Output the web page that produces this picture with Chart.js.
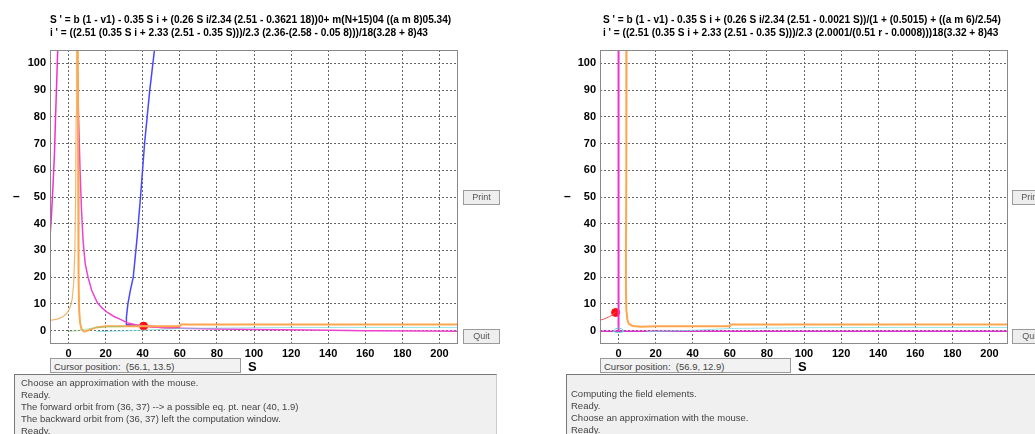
<!DOCTYPE html>
<html>
<head>
<meta charset="utf-8">
<script src="https://cdn.jsdelivr.net/npm/chart.js@4.4.1/dist/chart.umd.min.js"></script>
<style>
body { margin:0; width:1035px; height:434px; overflow:hidden; position:relative; background:#fff; font-family:"Liberation Sans", Arial, sans-serif; }
.panel { position:absolute; top:0; height:434px; }
canvas { position:absolute; left:0; top:0; }
.eq { position:absolute; font:bold 11px "Liberation Sans Narrow", "Liberation Sans", sans-serif; color:#000; white-space:nowrap; line-height:13px; transform:scaleX(0.92); transform-origin:left top; }
.btn { position:absolute; width:35px; height:13px; background:#eee; border:1px solid #9a9a9a; font:9px "Liberation Sans", sans-serif; color:#555; text-align:center; line-height:13px; }
.cursor { position:absolute; height:15px; background:#f2f2f2; border:1px solid #999; font:9.5px "Liberation Sans", sans-serif; color:#444; line-height:15px; padding-left:3px; box-sizing:border-box; }
.msg { position:absolute; background:#f0f0f0; border:1px solid #777; border-right-color:#ccc; font:9.5px "Liberation Sans", sans-serif; color:#444; line-height:12px; box-sizing:border-box; white-space:nowrap; }
.ylab { position:absolute; font:bold 12px "Liberation Sans", sans-serif; }
.xlab { position:absolute; font:bold 13px "Liberation Sans", sans-serif; }
</style>
</head>
<body>
<div class="panel" style="left:0;width:520px">
  <canvas id="left" width="520" height="375"></canvas>
  <div class="eq" style="left:50px;top:13px">S ' = b (1 - v1) - 0.35 S i + (0.26 S i/2.34 (2.51 - 0.3621 18))0+ m(N+15)04 ((a m 8)05.34)</div>
  <div class="eq" style="left:50px;top:26px">i ' = ((2.51 (0.35 S i + 2.33 (2.51 - 0.35 S)))/2.3 (2.36-(2.58 - 0.05 8)))/18(3.28 + 8)43</div>
  <div class="ylab" style="left:13px;top:189px">–</div>
  <div class="btn" style="left:463px;top:190px">Print</div>
  <div class="btn" style="left:463px;top:329px">Quit</div>
  <div class="cursor" style="left:50px;top:358px;width:191px">Cursor position:&nbsp; (56.1, 13.5)</div>
  <div class="xlab" style="left:248px;top:359px">S</div>
  <div class="msg" style="left:14px;top:374px;width:483px;height:70px;padding:2px 0 0 6px">
    Choose an approximation with the mouse.<br>Ready.<br>The forward orbit from (36, 37) --&gt; a possible eq. pt. near (40, 1.9)<br>The backward orbit from (36, 37) left the computation window.<br>Ready.
  </div>
</div>
<div class="panel" style="left:520px;width:515px">
  <canvas id="right" width="515" height="375"></canvas>
  <div class="eq" style="left:83px;top:13px">S ' = b (1 - v1) - 0.35 S i + (0.26 S i/2.34 (2.51 - 0.0021 S))/(1 + (0.5015) + ((a m 6)/2.54)</div>
  <div class="eq" style="left:83px;top:26px">i ' = ((2.51 (0.35 S i + 2.33 (2.51 - 0.35 S)))/2.3 (2.0001/(0.51 r - 0.0008)))18(3.32 + 8)43</div>
  <div class="ylab" style="left:44px;top:189px">–</div>
  <div class="btn" style="left:492px;top:190px">Print</div>
  <div class="btn" style="left:492px;top:329px">Quit</div>
  <div class="cursor" style="left:80px;top:358px;width:191px">Cursor position:&nbsp; (56.9, 12.9)</div>
  <div class="xlab" style="left:278px;top:359px">S</div>
  <div class="msg" style="left:46px;top:374px;width:500px;height:70px;padding:13px 0 0 4px">
    Computing the field elements.<br>Ready.<br>Choose an approximation with the mouse.<br>Ready.
  </div>
</div>
<script>
// tick labels
const xTicks = [0, 20, 40, 60, 80, 100, 120, 140, 160, 180, 200];
const yTicks = [0, 10, 20, 30, 40, 50, 60, 70, 80, 90, 100];

// left panel orbits (S, i)
const leftMagentaS = [-5.8, -6.3, -7.0, -7.6, -8.4, -9.3, -10.3];
const leftMagentaI = [106, 95, 80, 66, 54, 42, 32];
const leftPinkS = [4.8, 5.4, 6.2, 7.0, 7.9, 9.0, 10.5, 12.5, 15.5, 18, 21, 24.5, 28, 31.5, 36, 40.5, 50, 60, 80, 100, 130, 160, 190, 212];
const leftPinkI = [97, 80, 60, 45, 33, 25, 20, 15, 10.5, 8.5, 6.8, 5.3, 4.2, 3.0, 2.2, 1.7, 1.2, 0.9, 0.6, 0.4, 0.2, 0.0, -0.1, -0.2];
const leftRedS = [31, 36, 40.5, 50, 60];
const leftRedI = [2.2, 1.9, 1.7, 1.3, 1.0];
const leftOrangeUpS = [-10.3, -6, -3, -1, 0, 1, 2, 2.8, 3.4, 3.8, 4.1, 4.3];
const leftOrangeUpI = [3.8, 4.3, 5.2, 6.5, 7.5, 9, 12, 18, 30, 50, 80, 106];
const leftOrangeDownS = [5.0, 5.2, 5.4, 5.7, 6.2, 7.0, 8.5, 11, 15, 20, 30, 45, 60, 60.5, 100, 150, 212];
const leftOrangeDownI = [106, 60, 20, 8, 3, 0.5, -0.4, 0.2, 1.2, 1.6, 1.6, 1.6, 1.6, 2.3, 2.3, 2.3, 2.3];
const leftBlueS = [40.5, 36, 31, 31.2, 32, 33.3, 34.9, 37, 38.8, 41, 43.8, 46.5];
const leftBlueI = [1.7, 1.9, 2.1, 5, 10, 15, 20, 35, 50, 70, 90, 106];
const leftGreenS = [0, 5, 10, 15, 20, 30];
const leftGreenI = [-0.3, 0, 0.6, 1.2, 1.4, 1.5];
const faintCyanS = [15, 25, 35, 45, 60, 100, 150, 212];
const faintCyanI = [-0.4, -0.2, 0, 0.3, 0.8, 1.1, 1.2, 1.2];
const leftPoint = [40.5, 1.7];

// right panel orbits (S, i)
const rightMagentaVS = [0, 0, 0];
const rightMagentaVI = [106, 50, -0.2];
const rightMagentaHS = [-10.5, 50, 212];
const rightMagentaHI = [-0.2, -0.2, -0.2];
const rightRedS = [-10.5, -8, -5, -3, -1.6];
const rightRedI = [3.8, 4.3, 5.2, 6.0, 6.8];
const rightOrangeS = [4.3, 4.2, 4.0, 4.0, 4.2, 4.8, 5.5, 7, 9, 12, 20, 40, 60, 60.5, 100, 150, 212];
const rightOrangeI = [106, 60, 30, 15, 8, 4, 2.6, 1.9, 1.6, 1.5, 1.6, 1.6, 1.6, 2.3, 2.3, 2.3, 2.3];
const rightCyanS = [-3, -1.5, 0, 1.5, 3, 1.5, 0, -1.5, -3];
const rightCyanI = [-0.2, 0.7, 1.1, 0.7, -0.2, -0.6, -0.7, -0.6, -0.2];
const rightPoint = [-1.6, 6.8];

const tickFont = { family: '"Liberation Sans Narrow", "Liberation Sans", sans-serif', size: 11, weight: 'bold' };

function pts(s, i) { return s.map((v, k) => ({ x: v, y: i[k] })); }
function curve(s, i, color, w) {
    return { data: pts(s, i), borderColor: color, borderWidth: w, showLine: true, pointRadius: 0, fill: false, tension: 0 };
}
function dot(p) {
    return { data: [{ x: p[0], y: p[1] }], showLine: false, pointRadius: 4, backgroundColor: '#ff1010', borderColor: '#ff1010' };
}

// frame round the plot area
const frame = {
    id: 'frame',
    afterDraw(c) {
        const a = c.chartArea, g = c.ctx;
        g.save();
        g.strokeStyle = '#888';
        g.lineWidth = 1;
        g.strokeRect(a.left + 0.5, a.top + 0.5, a.width - 1, a.height - 1);
        g.restore();
    }
};

function makeChart(id, yWidth, rightPad, datasets) {
    return new Chart(document.getElementById(id), {
        type: 'scatter',
        data: { datasets: datasets },
        options: {
            responsive: false,
            animation: false,
            layout: { padding: { left: 0, top: 50, right: rightPad, bottom: 0 } },
            plugins: { legend: { display: false }, tooltip: { enabled: false } },
            scales: {
                x: {
                    type: 'linear', min: -10, max: 210,
                    afterBuildTicks: s => { s.ticks = xTicks.map(v => ({ value: v })); },
                    afterFit: s => { s.height = 31; },
                    grid: { color: '#666', drawTicks: false, tickLength: 0 },
                    border: { display: false, dash: [2, 2] },
                    ticks: { padding: 3, color: '#000', font: tickFont, maxRotation: 0, autoSkip: false }
                },
                y: {
                    type: 'linear', min: -5, max: 105,
                    afterBuildTicks: s => { s.ticks = yTicks.map(v => ({ value: v })); },
                    afterFit: s => { s.width = yWidth; },
                    grid: { color: '#666', drawTicks: false, tickLength: 0 },
                    border: { display: false, dash: [2, 2] },
                    ticks: { padding: 4, color: '#000', font: tickFont, autoSkip: false }
                }
            }
        },
        plugins: [frame]
    });
}

makeChart('left', 50, 62, [
    curve(leftGreenS, leftGreenI, 'rgba(120,210,120,0.6)', 1),
    curve(faintCyanS, faintCyanI, 'rgba(110,215,225,0.7)', 1),
    curve(leftOrangeUpS, leftOrangeUpI, '#f0b870', 1.2),
    curve(leftOrangeDownS, leftOrangeDownI, '#ffa64d', 2),
    curve(leftMagentaS, leftMagentaI, '#ee33cc', 1.5),
    curve(leftPinkS, leftPinkI, '#ee44cc', 1.5),
    curve(leftBlueS, leftBlueI, '#4848ff', 1.5),
    curve(leftRedS, leftRedI, '#ff3366', 2),
    dot(leftPoint)
]);

makeChart('right', 80, 27, [
    curve(faintCyanS, faintCyanI, 'rgba(110,215,225,0.7)', 1),
    curve(rightCyanS, rightCyanI, '#55ccdd', 1),
    curve(rightOrangeS, rightOrangeI, '#ffa64d', 2),
    curve(rightRedS, rightRedI, '#ee5555', 1),
    curve(rightMagentaVS, rightMagentaVI, '#ee33cc', 2),
    curve(rightMagentaHS, rightMagentaHI, '#dd33cc', 1.5),
    dot(rightPoint)
]);
</script>
</body>
</html>
